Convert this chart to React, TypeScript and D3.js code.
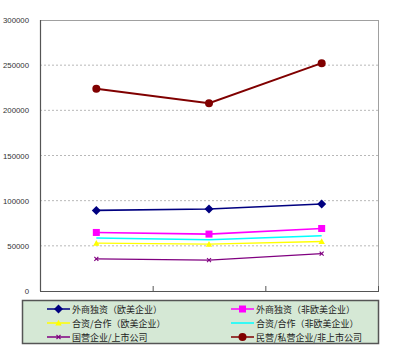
import React from "react";
import * as d3 from "d3";

const categories = ["A", "B", "C"];
const seriesNames = [
  "外商独资（欧美企业）",
  "外商独资（非欧美企业）",
  "合资/合作（欧美企业）",
  "合资/合作（非欧美企业）",
  "国营企业/上市公司",
  "民营/私营企业/非上市公司",
];
const s1 = [89200, 90800, 96300];
const s2 = [64800, 63000, 69200];
const s3 = [53000, 51900, 54800];
const s4 = [58600, 56700, 61100];
const s5 = [35600, 34100, 41400];
const s6 = [223900, 207800, 252200];
const yTicks = [0, 50000, 100000, 150000, 200000, 250000, 300000];

const colors = ["#000080", "#ff00ff", "#ffff00", "#00ffff", "#800080", "#800000"];
const markers = ["diamond", "square", "triangle", "none", "x", "circle"];
const widths = [1.6, 1.6, 1.4, 1.4, 1.2, 2];
const allSeries = [s1, s2, s3, s4, s5, s6];

function Marker({ type, x, y, color }: { type: string; x: number; y: number; color: string }) {
  if (type === "diamond") {
    const r = 4.5;
    return <path d={`M${x},${y - r}L${x + r},${y}L${x},${y + r}L${x - r},${y}Z`} fill={color} />;
  }
  if (type === "square") {
    return <rect x={x - 3.5} y={y - 3.5} width={7} height={7} fill={color} />;
  }
  if (type === "triangle") {
    const r = 3.2;
    return <path d={`M${x},${y - r}L${x + r},${y + r * 0.8}L${x - r},${y + r * 0.8}Z`} fill={color} />;
  }
  if (type === "x") {
    const r = 2;
    return (
      <g stroke={color} strokeWidth={1.1}>
        <line x1={x - r} y1={y - r} x2={x + r} y2={y + r} />
        <line x1={x - r} y1={y + r} x2={x + r} y2={y - r} />
      </g>
    );
  }
  if (type === "circle") {
    return <circle cx={x} cy={y} r={4} fill={color} />;
  }
  return null;
}

export default function App() {
  const left = 40, right = 378, top = 20, bottom = 291;
  const x = d3.scaleBand<string>().domain(categories).range([left, right]);
  const y = d3.scaleLinear().domain([0, 300000]).range([bottom, top]);
  const line = d3
    .line<number>()
    .x((_, i) => (x(categories[i]) as number) + x.bandwidth() / 2)
    .y((d) => y(d));

  const legendRows = [309, 323, 337];
  const legendCols = [47, 231];

  return (
    <svg
      width={400}
      height={360}
      style={{ position: "absolute", left: 0, top: 0, background: "#fff" }}
      fontFamily="'Noto Sans CJK SC', 'DejaVu Sans', sans-serif"
    >
      {yTicks.slice(1, -1).map((t) => (
        <line key={t} x1={left} x2={right} y1={y(t)} y2={y(t)} stroke="#b8b8b8" strokeWidth={1} strokeDasharray="2,2" />
      ))}
      <line x1={left} x2={right} y1={top + 0.5} y2={top + 0.5} stroke="#a0a0a0" />
      <line x1={right + 0.5} x2={right + 0.5} y1={top} y2={bottom} stroke="#a0a0a0" />
      <line x1={left + 0.5} x2={left + 0.5} y1={top} y2={bottom} stroke="#555" strokeWidth={1.2} />
      <line x1={left} x2={right + 1} y1={bottom + 0.5} y2={bottom + 0.5} stroke="#555" strokeWidth={1.2} />
      {categories.map((c) => (
        <line key={c} x1={(x(c) as number) + x.bandwidth() + 0.5} x2={(x(c) as number) + x.bandwidth() + 0.5} y1={bottom - 5} y2={bottom} stroke="#555" />
      ))}
      {yTicks.map((t) => (
        <text key={t} x={29} y={y(t) + 3} textAnchor="end" fontSize={7.8} fill="#333" fontFamily="'Liberation Sans', Arial, sans-serif">
          {t}
        </text>
      ))}
      {allSeries.map((s, si) => (
        <g key={si}>
          <path d={line(s) as string} fill="none" stroke={colors[si]} strokeWidth={widths[si]} />
          {s.map((v, i) => (
            <Marker key={i} type={markers[si]} x={(x(categories[i]) as number) + x.bandwidth() / 2} y={y(v)} color={colors[si]} />
          ))}
        </g>
      ))}
      <rect x={22.5} y={300.5} width={356} height={43} fill="#d5e8d5" stroke="#555" strokeWidth={1.5} />
      {seriesNames.map((name, i) => {
        const col = i % 2;
        const row = Math.floor(i / 2);
        const lx = legendCols[col];
        const ly = legendRows[row];
        return (
          <g key={name}>
            <line x1={lx} x2={lx + 23} y1={ly} y2={ly} stroke={colors[i]} strokeWidth={1.5} />
            <Marker type={markers[i]} x={lx + 11.5} y={ly} color={colors[i]} />
            <text x={lx + 25} y={ly + 3.5} fontSize={9} fill="#222">
              {name}
            </text>
          </g>
        );
      })}
    </svg>
  );
}
